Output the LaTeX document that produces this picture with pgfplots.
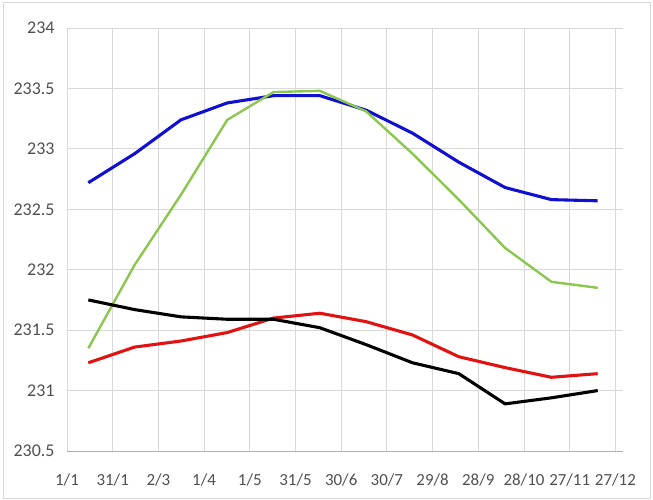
\documentclass[border=0pt]{standalone}
\usepackage{pgfplots}
\pgfplotsset{compat=1.18}
\usepackage{fontspec}
\setmainfont{Carlito}
\definecolor{lblue}{RGB}{16,16,210}
\definecolor{lgreen}{RGB}{140,198,80}
\definecolor{lred}{RGB}{226,18,18}
\definecolor{gridc}{RGB}{217,217,217}
\definecolor{tickc}{RGB}{80,80,80}
\begin{document}
\begin{tikzpicture}
\draw[gridc, line width=0.8bp] (-64bp,-47bp) rectangle (583bp,449bp);
\path (-67bp,-49bp) rectangle (586bp,451bp);
\begin{axis}[
  at={(0,0)}, anchor=south west,
  scale only axis, width=556bp, height=423bp,
  xmin=0, xmax=365, ymin=230.5, ymax=234,
  xtick={0,30,...,360},
  xticklabels={1/1,31/1,2/3,1/4,1/5,31/5,30/6,30/7,29/8,28/9,28/10,27/11,27/12},
  ytick={230.5,231,...,234},
  yticklabels={230.5,231,231.5,232,232.5,233,233.5,234},
  grid=major, major grid style={gridc, line width=0.8bp},
  axis x line*=bottom, axis y line*=left,
  x axis line style={-, gridc!80!black, line width=0.8bp},
  y axis line style={-, gridc, line width=0.8bp},
  major tick length=0pt,
  tick label style={font=\fontsize{17}{18}\selectfont, text=tickc},
  xticklabel style={yshift=-19bp},
  yticklabel style={xshift=-9bp, font=\fontsize{18}{19}\selectfont},
  /pgf/number format/assume math mode=true,
  every axis plot/.append style={line width=3.1pt, line join=round, no markers},
]
\addplot[lblue] coordinates {(14,232.72) (44.4,232.96) (74.8,233.24) (105.2,233.38) (135.6,233.44) (166,233.44) (196.4,233.32) (226.8,233.13) (257.2,232.89) (287.6,232.68) (318,232.58) (348.4,232.57)};
\addplot[lgreen, line width=2.4pt] coordinates {(14,231.35) (44.4,232.04) (74.8,232.62) (105.2,233.24) (135.6,233.47) (166,233.48) (196.4,233.31) (226.8,232.96) (257.2,232.58) (287.6,232.18) (318,231.90) (348.4,231.85)};
\addplot[lred] coordinates {(14,231.23) (44.4,231.36) (74.8,231.41) (105.2,231.48) (135.6,231.60) (166,231.64) (196.4,231.57) (226.8,231.46) (257.2,231.28) (287.6,231.19) (318,231.11) (348.4,231.14)};
\addplot[black] coordinates {(14,231.75) (44.4,231.67) (74.8,231.61) (105.2,231.59) (135.6,231.59) (166,231.52) (196.4,231.38) (226.8,231.23) (257.2,231.14) (287.6,230.89) (318,230.94) (348.4,231.00)};
\end{axis}
\end{tikzpicture}
\end{document}
